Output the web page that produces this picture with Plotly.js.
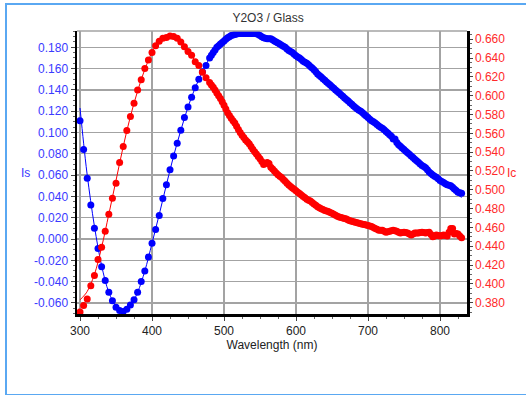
<!DOCTYPE html>
<html>
<head>
<meta charset="utf-8">
<script src="https://cdn.plot.ly/plotly-3.0.1.min.js"></script>
<style>
html,body{margin:0;padding:0;background:#fff;overflow:hidden;}
#frame{position:absolute;left:5px;top:3px;width:540px;height:389px;border:2px solid #5aa8f2;}
#chart{position:absolute;left:0;top:0;width:526px;height:395px;}
</style>
</head>
<body>
<div id="frame"></div>
<div id="chart"></div>
<script>
// Wavelength of measured points (nm): 5 nm steps to 480, then 2.5 nm steps
const wavelength = [300,305,310,315,320,325,330,335,340,345,350,355,360,365,370,375,380,385,390,395,
400,405,410,415,420,425,430,435,440,445,450,455,460,465,470,475,480,
482.5,485,487.5,490, 492.5,495,497.5,500, 502.5,505,507.5,510, 512.5,515,517.5,520,
522.5,525,527.5,530, 532.5,535,537.5,540, 542.5,545,547.5,550, 552.5,555,557.5,560,
562.5,565,567.5,570, 572.5,575,577.5,580, 582.5,585,587.5,590, 592.5,595,597.5,600,
602.5,605,607.5,610, 612.5,615,617.5,620, 622.5,625,627.5,630, 632.5,635,637.5,640,
642.5,645,647.5,650, 652.5,655,657.5,660, 662.5,665,667.5,670, 672.5,675,677.5,680,
682.5,685,687.5,690, 692.5,695,697.5,700, 702.5,705,707.5,710, 712.5,715,717.5,720,
722.5,725,727.5,730, 732.5,735,737.5,740, 742.5,745,747.5,750, 752.5,755,757.5,760,
762.5,765,767.5,770, 772.5,775,777.5,780, 782.5,785,787.5,790, 792.5,795,797.5,800,
802.5,805,807.5,810, 812.5,815,817.5,820, 822.5,825,827.5,830];

// Is (left axis), measured
const isValues = [0.111,0.084,0.057,0.032,0.010,-0.009,-0.026,-0.039,-0.050,-0.058,-0.064,-0.067,-0.068,-0.066,-0.062,-0.057,-0.050,-0.040,-0.030,-0.017,
-0.004,0.009,0.022,0.038,0.051,0.065,0.078,0.090,0.102,0.114,0.124,0.133,0.142,0.150,0.157,0.163,0.170,
0.1725,0.175,0.1775,0.180, 0.1815,0.183,0.1845,0.186, 0.1875,0.189,0.190,0.191, 0.1915,0.192,0.1925,0.193,
0.193,0.193,0.193,0.193, 0.193,0.193,0.193,0.193, 0.193,0.193,0.192,0.191, 0.190,0.189,0.1885,0.188,
0.188,0.188,0.187,0.186, 0.185,0.184,0.183,0.182, 0.181,0.180,0.1785,0.177, 0.176,0.175,0.1735,0.172,
0.171,0.170,0.1685,0.167, 0.166,0.165,0.1635,0.162, 0.1605,0.159,0.157,0.155, 0.1535,0.152,0.1505,0.149,
0.1475,0.146,0.1445,0.143, 0.1415,0.140,0.1385,0.137, 0.1355,0.134,0.1325,0.131, 0.1295,0.128,0.1265,0.125,
0.1235,0.122,0.121,0.120, 0.1185,0.117,0.1155,0.114, 0.1125,0.111,0.110,0.109, 0.1075,0.106,0.105,0.104,
0.1025,0.101,0.0995,0.098, 0.0965,0.094,0.094,0.0905, 0.0885,0.087,0.0855,0.084, 0.0825,0.081,0.0795,0.078,
0.0765,0.075,0.0735,0.072, 0.0705,0.069,0.068,0.067, 0.065,0.063,0.0615,0.060, 0.059,0.058,0.0565,0.055,
0.054,0.053,0.052,0.051, 0.0505,0.050,0.0485,0.047, 0.0455,0.044,0.0435,0.043];

// Ic (right axis), measured
const icValues = [0.370,0.377,0.384,0.398,0.409,0.426,0.439,0.456,0.474,0.491,0.507,0.529,0.546,0.563,0.578,0.592,0.606,0.617,0.629,0.638,
0.646,0.653,0.658,0.661,0.662,0.6635,0.663,0.661,0.657,0.652,0.647,0.643,0.636,0.632,0.625,0.619,0.614,
0.6115,0.609,0.606,0.603, 0.600,0.597,0.5935,0.590, 0.586,0.582,0.579,0.576, 0.5735,0.571,0.5675,0.564,
0.561,0.558,0.5555,0.553, 0.551,0.549,0.546,0.543, 0.5405,0.538,0.5355,0.533, 0.530,0.527,0.528,0.529,
0.528,0.524,0.522,0.520, 0.518,0.516,0.5145,0.513, 0.511,0.509,0.507,0.505, 0.5035,0.502,0.5005,0.499,
0.4975,0.496,0.4945,0.493, 0.4915,0.490,0.489,0.488, 0.4865,0.485,0.4835,0.482, 0.481,0.480,0.479,0.478,
0.4775,0.477,0.476,0.475, 0.474,0.473,0.472,0.471, 0.4705,0.470,0.4695,0.469, 0.468,0.467,0.4665,0.466,
0.4655,0.465,0.4645,0.464, 0.4635,0.463,0.4625,0.462, 0.4615,0.461,0.460,0.459, 0.458,0.457,0.457,0.457,
0.456,0.455,0.4555,0.456, 0.4565,0.457,0.4565,0.456, 0.455,0.454,0.4545,0.455, 0.4545,0.454,0.453,0.452,
0.453,0.454,0.454,0.454, 0.4545,0.455,0.4545,0.454, 0.4545,0.455,0.4525,0.450, 0.451,0.452,0.4515,0.451,
0.4515,0.452,0.4515,0.451, 0.455,0.459,0.459,0.453, 0.4535,0.453,0.451,0.449];

// Fitted curves (thin lines)
const fitWavelength = [300,305,310,320,330,340,350,360,370,380,390,400,410,420,430,440,450,460,470,480,490,
500,510,520,530,540,550,560,570,580,590,600,610,620,630,640,650,660,670,680,690,
700,710,720,730,740,750,760,770,780,790,800,810,820,830];
const isFit = [0.123,0.090,0.060,0.012,-0.025,-0.050,-0.063,-0.068,-0.063,-0.050,-0.030,-0.004,0.023,0.051,0.078,0.102,0.124,0.142,0.157,0.170,0.180,
0.186,0.191,0.193,0.194,0.193,0.191,0.188,0.185,0.181,0.177,0.172,0.166,0.161,0.155,0.148,0.142,0.136,0.130,0.124,0.118,
0.112,0.107,0.101,0.095,0.089,0.083,0.077,0.071,0.065,0.059,0.054,0.049,0.044,0.039];
const icFit = [0.383,0.387,0.392,0.410,0.439,0.474,0.510,0.546,0.578,0.605,0.628,0.646,0.658,0.663,0.663,0.658,0.648,0.637,0.625,0.614,0.603,
0.590,0.577,0.565,0.553,0.543,0.533,0.525,0.519,0.513,0.506,0.499,0.493,0.488,0.483,0.478,0.475,0.471,0.469,0.466,0.464,
0.462,0.459,0.457,0.456,0.456,0.455,0.454,0.454,0.454,0.452,0.451,0.452,0.455,0.450];

// Tick labels
const xTicks = [300,400,500,600,700,800];
const xTickText = ["300","400","500","600","700","800"];
const isTicks = [-0.06,-0.04,-0.02,0,0.02,0.04,0.06,0.08,0.10,0.12,0.14,0.16,0.18];
const isTickText = ["-0.060","-0.040","-0.020","0.000","0.020","0.040","0.060","0.080","0.100","0.120","0.140","0.160","0.180"];
const icTicks = [0.38,0.40,0.42,0.44,0.46,0.48,0.50,0.52,0.54,0.56,0.58,0.60,0.62,0.64,0.66];
const icTickText = ["0.380","0.400","0.420","0.440","0.460","0.480","0.500","0.520","0.540","0.560","0.580","0.600","0.620","0.640","0.660"];

const BLUE = '#0000ff', RED = '#ff0000';
const FONT = 'Liberation Sans, Arial, sans-serif';

const traces = [
  {x: wavelength, y: isValues, mode: 'markers', marker: {color: BLUE, size: 7}, yaxis: 'y', showlegend: false},
  {x: fitWavelength, y: isFit, mode: 'lines', line: {color: BLUE, width: 1, shape: 'spline'}, yaxis: 'y', showlegend: false},
  {x: wavelength, y: icValues, mode: 'markers', marker: {color: RED, size: 7}, yaxis: 'y2', showlegend: false},
  {x: fitWavelength, y: icFit, mode: 'lines', line: {color: RED, width: 1, shape: 'spline'}, yaxis: 'y2', showlegend: false}
];

const layout = {
  width: 526, height: 395,
  margin: {l: 77, r: 59, t: 31, b: 81, pad: 0},
  paper_bgcolor: 'rgba(0,0,0,0)',
  plot_bgcolor: 'rgba(0,0,0,0)',
  font: {family: FONT, size: 12, color: '#222'},
  title: {text: 'Y2O3 / Glass', font: {family: FONT, size: 12, color: '#333'}, x: 0.49, xref: 'paper', xanchor: 'center', y: 0.955, yanchor: 'middle'},
  xaxis: {
    range: [295.8, 837.5], tickvals: xTicks, ticktext: xTickText,
    showgrid: true, gridcolor: '#a3a3a3', gridwidth: 1.3,
    showline: true, linecolor: '#000', linewidth: 2.5,
    ticks: 'outside', ticklen: 4, tickcolor: '#444',
    minor: {dtick: 25, ticks: 'outside', ticklen: 2, tickcolor: '#666', showgrid: false},
    tickfont: {family: FONT, size: 12, color: '#222'},
    title: {text: 'Wavelength (nm)', font: {family: FONT, size: 12, color: '#222'}, standoff: 2},
    zeroline: false
  },
  yaxis: {
    range: [-0.0704, 0.1953], tickvals: isTicks, ticktext: isTickText,
    showgrid: true, gridcolor: '#a3a3a3', gridwidth: 1.3,
    showline: true, linecolor: '#000', linewidth: 2.5,
    ticks: 'outside', ticklen: 4, tickcolor: '#444',
    minor: {dtick: 0.005, tick0: 0, ticks: 'outside', ticklen: 2, tickcolor: '#666', showgrid: false},
    tickfont: {family: FONT, size: 12, color: '#3a3aff'},
    zeroline: false
  },
  yaxis2: {
    range: [0.368, 0.6688], overlaying: 'y', side: 'right',
    tickvals: icTicks, ticktext: icTickText,
    showgrid: false,
    showline: true, linecolor: '#000', linewidth: 2.5,
    ticks: 'outside', ticklen: 3, tickcolor: '#444',
    minor: {dtick: 0.005, tick0: 0, ticks: 'outside', ticklen: 2, tickcolor: '#666', showgrid: false},
    tickfont: {family: FONT, size: 12, color: '#ff2a2a'},
    zeroline: false
  },
  shapes: [
    {type: 'line', xref: 'paper', yref: 'paper', x0: 0, x1: 1, y0: 1, y1: 1, line: {color: '#a3a3a3', width: 1.5}}
  ],
  annotations: [
    {text: 'Is', xref: 'paper', yref: 'paper', x: -0.131, y: 0.5, showarrow: false, xanchor: 'center', yanchor: 'middle', font: {family: FONT, size: 12, color: '#3a3aff'}},
    {text: 'Ic', xref: 'paper', yref: 'paper', x: 1.115, y: 0.5, showarrow: false, xanchor: 'center', yanchor: 'middle', font: {family: FONT, size: 12, color: '#ff2a2a'}}
  ]
};

Plotly.newPlot('chart', traces, layout, {staticPlot: true, displayModeBar: false});
</script>
</body>
</html>
